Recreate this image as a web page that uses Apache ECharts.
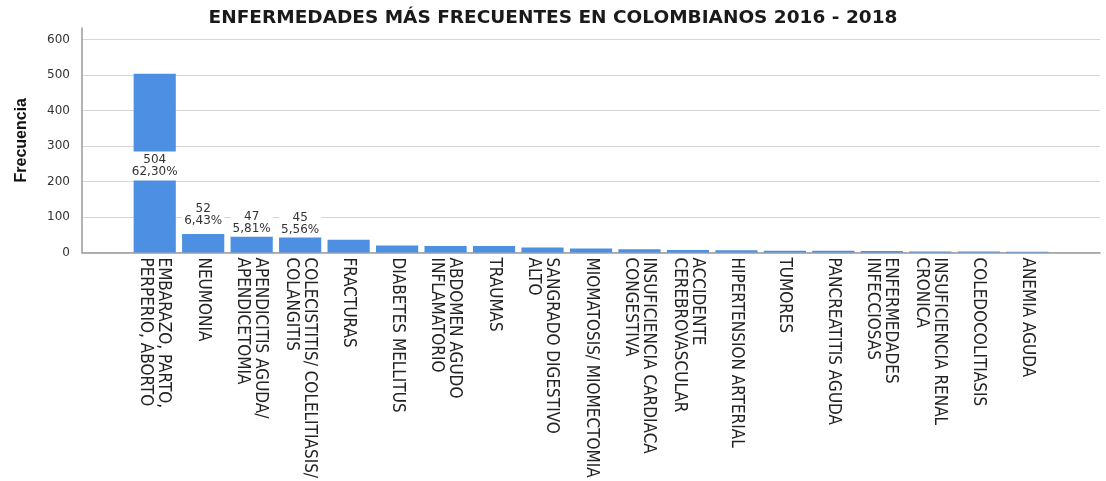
<!DOCTYPE html>
<html>
<head>
<meta charset="utf-8">
<script src="https://cdn.jsdelivr.net/npm/echarts@6/dist/echarts.min.js"></script>
<style>
html,body{margin:0;padding:0;background:#fff;}
#chart{width:1106px;height:481px;}
</style>
</head>
<body>
<div id="chart"></div>
<script>
const chartTitle = 'ENFERMEDADES MÁS FRECUENTES EN COLOMBIANOS 2016 - 2018';
const yAxisName = 'Frecuencia';
const categories = [
  'EMBARAZO, PARTO,\nPERPERIO, ABORTO',
  'NEUMONIA',
  'APENDICITIS AGUDA/\nAPENDICETOMIA',
  'COLECISTITIS/ COLELITIASIS/\nCOLANGITIS',
  'FRACTURAS',
  'DIABETES MELLITUS',
  'ABDOMEN AGUDO\nINFLAMATORIO',
  'TRAUMAS',
  'SANGRADO DIGESTIVO\nALTO',
  'MIOMATOSIS/ MIOMECTOMIA',
  'INSUFICIENCIA CARDIACA\nCONGESTIVA',
  'ACCIDENTE\nCEREBROVASCULAR',
  'HIPERTENSION ARTERIAL',
  'TUMORES',
  'PANCREATITIS AGUDA',
  'ENFERMEDADES\nINFECCIOSAS',
  'INSUFICIENCIA RENAL\nCRONICA',
  'COLEDOCOLITIASIS',
  'ANEMIA AGUDA'
];
const frequencies = [504, 52, 47, 45, 36, 20, 18, 18, 14, 11, 9, 7, 6, 5, 5, 4, 3, 3, 2];
const percentLabels = ['62,30%', '6,43%', '5,81%', '5,56%'];
const yTicks = [0, 100, 200, 300, 400, 500, 600];

// style: label placement per labelled bar
const labelPlacement = [
  {position: 'inside', offset: [0, 3]},
  {position: 'top', distance: 5},
  {position: 'top', distance: -1},
  {position: 'top', distance: -1}
];

// one empty slot on each side, as in the reference
const xCats = [''].concat(categories, ['']);
const seriesData = [null].concat(frequencies.map(function (v, i) {
  const item = {value: v};
  if (i < percentLabels.length) {
    item.label = Object.assign({
      show: true,
      formatter: v + '\n' + percentLabels[i]
    }, labelPlacement[i]);
  }
  return item;
}), [null]);

const chart = echarts.init(document.getElementById('chart'), null, {renderer: 'canvas'});
chart.setOption({
  backgroundColor: '#ffffff',
  animation: false,
  title: {
    text: chartTitle,
    left: 'center',
    top: 4,
    textStyle: {fontFamily: 'DejaVu Sans, Liberation Sans, sans-serif', fontWeight: 'bold', fontSize: 18.5, color: '#1a1a1a'}
  },
  grid: {left: 82, right: 6, top: 28, bottom: 224, containLabel: false},
  xAxis: {
    type: 'category',
    data: xCats,
    boundaryGap: true,
    axisLine: {show: true, lineStyle: {color: '#9a9a9a', width: 1.5}},
    axisTick: {show: false},
    axisLabel: {
      interval: 0,
      rotate: -90,
      margin: 5,
      color: '#222',
      fontSize: 17,
      lineHeight: 18,
      fontFamily: 'Liberation Sans Narrow, Arial Narrow, DejaVu Sans Condensed, sans-serif'
    }
  },
  yAxis: {
    type: 'value',
    min: yTicks[0],
    max: 633,
    interval: 100,
    name: yAxisName,
    nameLocation: 'middle',
    nameGap: 52,
    nameMoveOverlap: false,
    nameTextStyle: {fontFamily: 'Liberation Sans, Arial, sans-serif', fontWeight: 'bold', fontSize: 16, color: '#111'},
    axisLine: {show: true, lineStyle: {color: '#9a9a9a', width: 1.5}},
    axisTick: {show: false},
    axisLabel: {
      margin: 12,
      color: '#333',
      fontSize: 12,
      fontFamily: 'DejaVu Sans, Liberation Sans, sans-serif',
      showMaxLabel: false,
      formatter: function (v) { return yTicks.indexOf(v) >= 0 ? String(v) : ''; }
    },
    splitLine: {show: true, showMaxLine: false, lineStyle: {color: '#d6d6d6', width: 1}}
  },
  series: [{
    type: 'bar',
    data: seriesData,
    barCategoryGap: '13%',
    itemStyle: {color: '#4d8fe2'},
    label: {
      show: false,
      color: '#333',
      fontSize: 12,
      lineHeight: 12,
      fontFamily: 'DejaVu Sans, Liberation Sans, sans-serif',
      backgroundColor: '#ffffff',
      padding: [3, 2, 2, 2]
    }
  }]
});
</script>
</body>
</html>
